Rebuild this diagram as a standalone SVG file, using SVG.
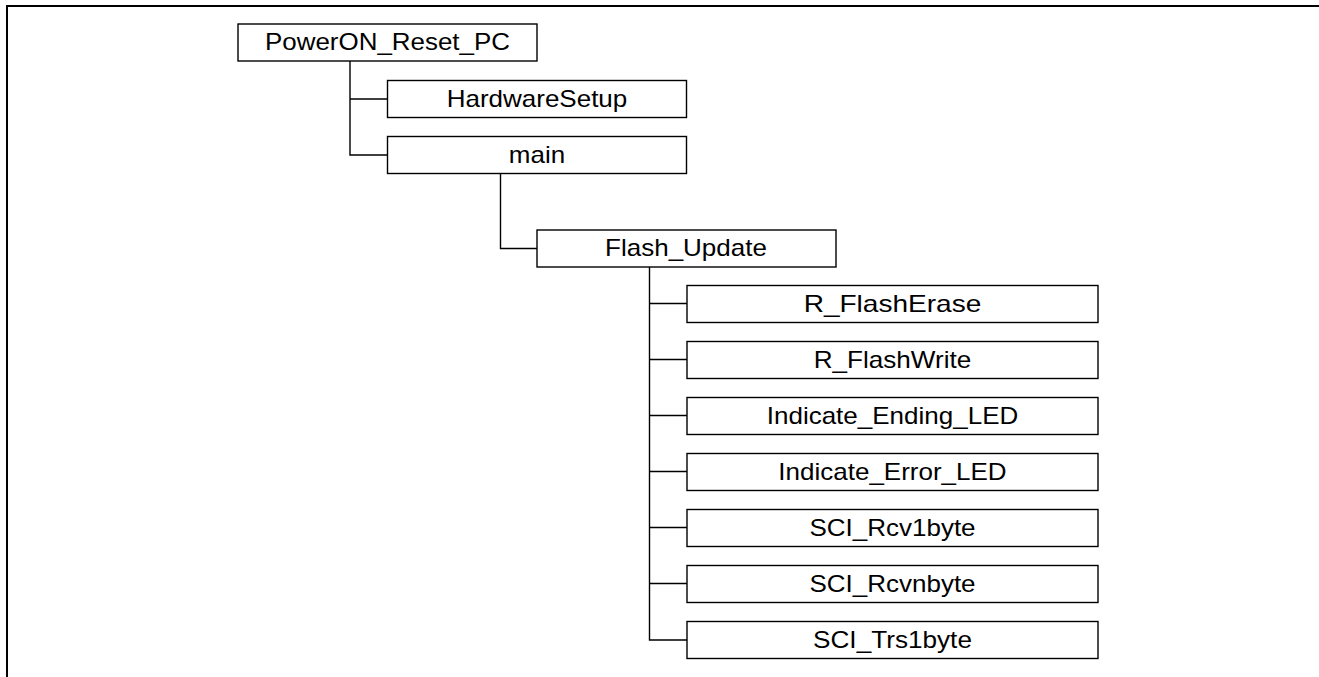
<svg xmlns="http://www.w3.org/2000/svg" width="1319" height="677" viewBox="0 0 1319 677">
  <style>
    .box { fill: #ffffff; stroke: #000000; stroke-width: 1.4; }
    .lbl { font-family: "Liberation Sans", Arial, sans-serif; font-size: 23.4px; fill: #000000; text-anchor: middle; }
    .wire { fill: none; stroke: #000000; stroke-width: 1.4; }
    .frame { fill: none; stroke: #000000; stroke-width: 2; }
  </style>
  <rect width="1319" height="677" fill="#ffffff"/>
  <!-- outer frame: top and left edges -->
  <path class="frame" d="M7,677 V6 H1319"/>

  <g id="connectors">
    <!-- PowerON_Reset_PC children -->
    <path class="wire" d="M350,61 V155 H387.5"/>
    <path class="wire" d="M350,99 H387.5"/>
    <!-- main to Flash_Update -->
    <path class="wire" d="M500.5,173 V248.5 H537"/>
    <!-- Flash_Update children -->
    <path class="wire" d="M649.5,267 V640 H687"/>
    <path class="wire" d="M649.5,303.5 H687"/>
    <path class="wire" d="M649.5,359.5 H687"/>
    <path class="wire" d="M649.5,415.5 H687"/>
    <path class="wire" d="M649.5,471.5 H687"/>
    <path class="wire" d="M649.5,527.5 H687"/>
    <path class="wire" d="M649.5,583.5 H687"/>
  </g>

  <g id="node-poweron">
    <rect class="box" x="238" y="24" width="299" height="37"/>
    <text class="lbl" x="387.5" y="50" textLength="245" lengthAdjust="spacingAndGlyphs">PowerON_Reset_PC</text>
  </g>
  <g id="node-hardwaresetup">
    <rect class="box" x="387.5" y="80.5" width="299" height="37"/>
    <text class="lbl" x="537" y="106.5" textLength="180.6" lengthAdjust="spacingAndGlyphs">HardwareSetup</text>
  </g>
  <g id="node-main">
    <rect class="box" x="387.5" y="136.5" width="299" height="37"/>
    <text class="lbl" x="537" y="162.5" textLength="56.3" lengthAdjust="spacingAndGlyphs">main</text>
  </g>
  <g id="node-flash-update">
    <rect class="box" x="537" y="230" width="299" height="37"/>
    <text class="lbl" x="686" y="256" textLength="161.9" lengthAdjust="spacingAndGlyphs">Flash_Update</text>
  </g>
  <g id="node-r-flasherase">
    <rect class="box" x="687" y="285.5" width="411" height="37"/>
    <text class="lbl" x="892.5" y="311.5" textLength="177.7" lengthAdjust="spacingAndGlyphs">R_FlashErase</text>
  </g>
  <g id="node-r-flashwrite">
    <rect class="box" x="687" y="341.5" width="411" height="37"/>
    <text class="lbl" x="892.5" y="367.5" textLength="157.5" lengthAdjust="spacingAndGlyphs">R_FlashWrite</text>
  </g>
  <g id="node-indicate-ending-led">
    <rect class="box" x="687" y="397.5" width="411" height="37"/>
    <text class="lbl" x="892.5" y="423.5" textLength="251.5" lengthAdjust="spacingAndGlyphs">Indicate_Ending_LED</text>
  </g>
  <g id="node-indicate-error-led">
    <rect class="box" x="687" y="453.5" width="411" height="37"/>
    <text class="lbl" x="892.5" y="479.5" textLength="228.3" lengthAdjust="spacingAndGlyphs">Indicate_Error_LED</text>
  </g>
  <g id="node-sci-rcv1byte">
    <rect class="box" x="687" y="509.5" width="411" height="37"/>
    <text class="lbl" x="892.5" y="535.5" textLength="166.2" lengthAdjust="spacingAndGlyphs">SCI_Rcv1byte</text>
  </g>
  <g id="node-sci-rcvnbyte">
    <rect class="box" x="687" y="565.5" width="411" height="37"/>
    <text class="lbl" x="892.5" y="591.5" textLength="166.2" lengthAdjust="spacingAndGlyphs">SCI_Rcvnbyte</text>
  </g>
  <g id="node-sci-trs1byte">
    <rect class="box" x="687" y="621.5" width="411" height="37"/>
    <text class="lbl" x="892.5" y="647.5" textLength="158.9" lengthAdjust="spacingAndGlyphs">SCI_Trs1byte</text>
  </g>
</svg>
